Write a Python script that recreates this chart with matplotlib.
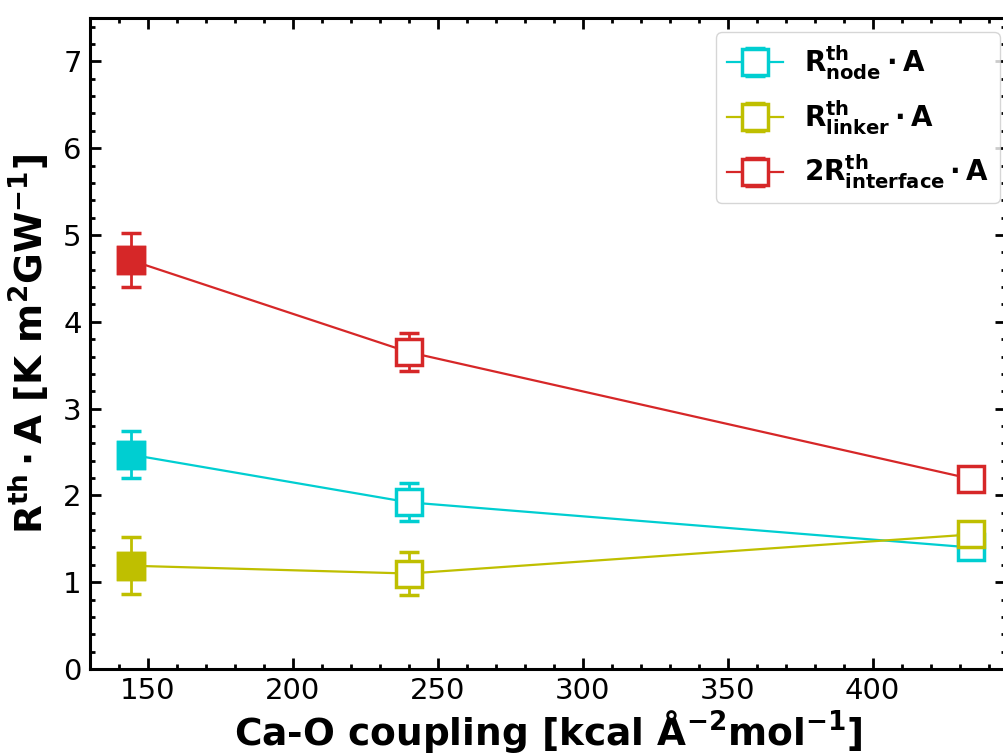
import matplotlib
matplotlib.use("Agg")
import matplotlib.pyplot as plt

# Data
coupling = [144, 240, 434]
node = [2.47, 1.92, 1.40]
node_err = [0.27, 0.22, 0.08]
linker = [1.19, 1.10, 1.55]
linker_err = [0.33, 0.25, 0.10]
interface = [4.71, 3.65, 2.19]
interface_err = [0.31, 0.22, 0.08]

labels = [r"$R^{th}_{node}\cdot A$", r"$R^{th}_{linker}\cdot A$",
          r"$2R^{th}_{interface}\cdot A$"]
colors = ["#00CED1", "#BFBF00", "#D62728"]

plt.rcParams['font.family'] = ['DejaVu Sans']
plt.rcParams['mathtext.fontset'] = 'dejavusans'
plt.rcParams['mathtext.default'] = 'bf'

fig = plt.figure(figsize=(10.04, 7.56), dpi=100)
ax = fig.add_axes([90/1004, 1-669/756, (1006-90)/1004, (669-18)/756])

series = [node, linker, interface]
errs = [node_err, linker_err, interface_err]
for vals, err, c, lab in zip(series, errs, colors, labels):
    ax.errorbar(coupling, vals, yerr=err, color=c, marker='s', markersize=19,
                markerfacecolor='white', markeredgecolor=c, markeredgewidth=2.5,
                linewidth=1.6, capsize=7, capthick=2.2, elinewidth=2, label=lab)
    ax.plot(coupling[:1], vals[:1], marker='s', markersize=19, color=c,
            markerfacecolor=c, markeredgecolor=c,
            markeredgewidth=2.5, linestyle='none', zorder=10)

ax.set_xlim(130, 446)
ax.set_ylim(0, 7.5)
ax.set_xticks([150, 200, 250, 300, 350, 400])
ax.set_yticks(range(0, 8))
ax.xaxis.set_minor_locator(matplotlib.ticker.MultipleLocator(10))
ax.yaxis.set_minor_locator(matplotlib.ticker.MultipleLocator(0.2))
ax.tick_params(which='both', direction='in', top=True, right=True, labelsize=21)
ax.tick_params(which='major', length=8, width=2, pad=6)
ax.tick_params(which='minor', length=3.5, width=2)
for s in ax.spines.values():
    s.set_linewidth(2.2)

ax.set_xlabel(r"Ca-O coupling [kcal Å$^{-2}$mol$^{-1}$]", fontsize=27,
              fontweight='bold', labelpad=2)
ax.set_ylabel(r"$R^{th}\cdot$A [K m$^{2}$GW$^{-1}$]", fontsize=27,
              fontweight='bold', labelpad=8)

ax.legend(loc='upper right', fontsize=20, frameon=True, borderpad=0.4,
          borderaxespad=0, bbox_to_anchor=(0.9934, 0.978), labelspacing=0.58,
          handlelength=2.0, handletextpad=0.75)

fig.savefig("out.png", dpi=100)
